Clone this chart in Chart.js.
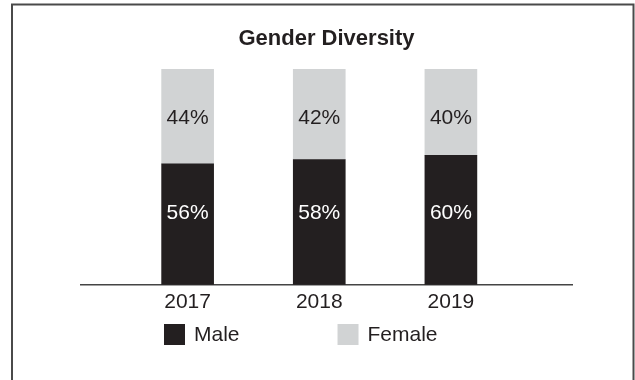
<!DOCTYPE html>
<html>
<head>
<meta charset="utf-8">
<title>Gender Diversity</title>
<script src="https://cdn.jsdelivr.net/npm/chart.js@4/dist/chart.umd.min.js"></script>
<style>
  html, body { margin: 0; padding: 0; background: #ffffff; }
  canvas { display: block; }
</style>
</head>
<body>
<canvas id="chart" width="635" height="380"></canvas>
<script>
// Share of employees by gender, per year (percent)
const years = ['2017', '2018', '2019'];
const male = [56, 58, 60];
const female = [44, 42, 40];

const INK = '#231f20';
const MALE_COLOR = '#231f20';
const FEMALE_COLOR = '#d1d3d4';
const FONT = '"Liberation Sans", Arial, Helvetica, sans-serif';

Chart.defaults.font.family = FONT;
Chart.defaults.color = INK;

// White page with a thin grey frame around the figure
const framePlugin = {
  id: 'frame',
  beforeDraw(chart) {
    const ctx = chart.ctx;
    ctx.save();
    ctx.fillStyle = '#ffffff';
    ctx.fillRect(0, 0, chart.width, chart.height);
    ctx.strokeStyle = '#4a4a4a';
    ctx.lineWidth = 2;
    ctx.strokeRect(12, 4.5, 621.5, chart.height + 20);
    ctx.restore();
  }
};

// Percentage written inside each stacked segment
const segmentLabels = {
  id: 'segmentLabels',
  afterDatasetsDraw(chart) {
    const ctx = chart.ctx;
    const yScale = chart.scales.y;
    ctx.save();
    ctx.font = '21px ' + FONT;
    ctx.textAlign = 'center';
    ctx.textBaseline = 'middle';
    chart.data.datasets.forEach((ds, di) => {
      const meta = chart.getDatasetMeta(di);
      ctx.fillStyle = ds.labelColor;
      meta.data.forEach((bar, i) => {
        const v = ds.data[i].y;
        ctx.fillText(v + '%', bar.x, yScale.getPixelForValue(ds.labelAt));
      });
    });
    ctx.restore();
  }
};

// Legend row under the year labels
const legendRow = {
  id: 'legendRow',
  afterDraw(chart) {
    const ctx = chart.ctx;
    const box = 21, gap = 98, top = 324;
    let x = 164;
    ctx.save();
    ctx.font = '21px ' + FONT;
    ctx.textAlign = 'left';
    ctx.textBaseline = 'middle';
    chart.data.datasets.forEach((ds) => {
      ctx.fillStyle = ds.backgroundColor;
      ctx.fillRect(x, top, box, box);
      ctx.fillStyle = INK;
      const tx = x + box + 9;
      ctx.fillText(ds.label, tx, top + box / 2 + 1);
      x = tx + ctx.measureText(ds.label).width + gap;
    });
    ctx.restore();
  }
};

new Chart(document.getElementById('chart'), {
  type: 'bar',
  data: {
    datasets: [
      {
        label: 'Male',
        data: male.map((v, i) => ({ x: i, y: v })),
        backgroundColor: MALE_COLOR,
        labelColor: '#ffffff',
        labelAt: 33,
        borderWidth: 0,
        barThickness: 52
      },
      {
        label: 'Female',
        data: female.map((v, i) => ({ x: i, y: v })),
        backgroundColor: FEMALE_COLOR,
        labelColor: INK,
        labelAt: 77,
        borderWidth: 0,
        barThickness: 52
      }
    ]
  },
  options: {
    responsive: false,
    animation: false,
    events: [],
    layout: { padding: { left: 81, right: 63, top: 0, bottom: 60 } },
    plugins: {
      legend: { display: false },
      tooltip: { enabled: false },
      title: {
        display: true,
        text: 'Gender Diversity',
        color: INK,
        font: { size: 22, weight: 'bold', lineHeight: 1.2 },
        padding: { top: 26, bottom: 16.6 }
      }
    },
    scales: {
      x: {
        type: 'linear',
        stacked: true,
        offset: false,
        min: -0.81,
        max: 2.92,
        grid: { display: false, drawTicks: false, offset: false },
        border: { display: true, color: '#444444', width: 1.5 },
        afterBuildTicks(scale) {
          scale.ticks = years.map((_, i) => ({ value: i }));
        },
        ticks: {
          autoSkip: false,
          maxRotation: 0,
          padding: 5,
          color: INK,
          font: { size: 21, lineHeight: 1.2 },
          callback: (value) => years[value]
        }
      },
      y: {
        stacked: true,
        display: false,
        min: 0,
        max: 100
      }
    }
  },
  plugins: [framePlugin, segmentLabels, legendRow]
});
</script>
</body>
</html>
